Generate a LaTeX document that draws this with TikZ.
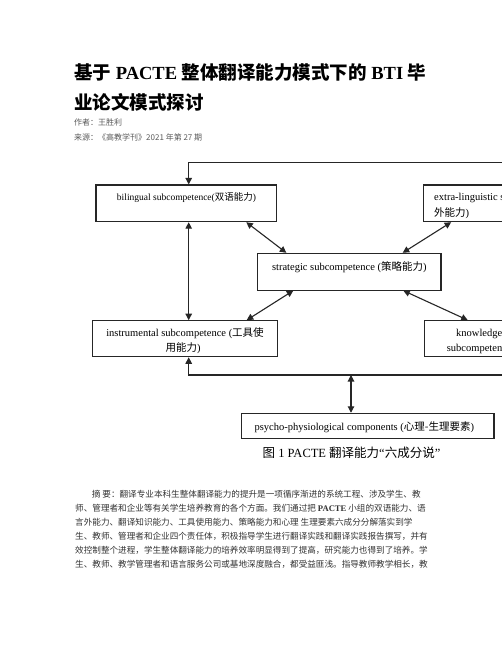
\documentclass[tikz,border=0pt]{standalone}
\usepackage{fontspec}
\setmainfont{Liberation Serif}
\newfontfamily\cjk{Noto Sans CJK SC}
\usetikzlibrary{arrows.meta,calc}

\newcommand{\zh}[1]{{\cjk #1}}

\tikzset{
  box/.style={draw=black!85, line width=1.1pt, inner sep=0pt},
  boxtext/.style={inner sep=0pt, font=\fontsize{10.5}{12}\selectfont},
  link/.style={draw=black!85, line width=1.1pt, -{Triangle[length=6.5pt,width=6.5pt]}},
  dlink/.style={link, {Triangle[length=6.5pt,width=6.5pt]}-{Triangle[length=6.5pt,width=6.5pt]}},
  bodyline/.style={anchor=base west, inner sep=0pt, text=black!80, font=\cjk\fontsize{8.6}{10}\selectfont},
}

\begin{document}
\begin{tikzpicture}[x=1pt, y=-1pt]
\useasboundingbox (0,0) rectangle (502,649);
\fill[white] (0,0) rectangle (502,649);
\clip (0,0) rectangle (502,649);

% title
\node[anchor=base west, inner sep=0pt, font=\fontsize{18.5}{20}\selectfont\bfseries] (title1) at (74,79) {\zh{基于} PACTE \zh{整体翻译能力模式下的} BTI \zh{毕}};
\node[anchor=base west, inner sep=0pt, font=\cjk\fontsize{18.5}{20}\selectfont\bfseries] (title2) at (74,109) {业论文模式探讨};
\node[anchor=base west, inner sep=0pt, text=black!65, font=\cjk\fontsize{8}{9}\selectfont] (author) at (74,125.7) {作者：王胜利};
\node[anchor=base west, inner sep=0pt, text=black!65, font=\cjk\fontsize{8}{9}\selectfont] (source) at (74,140.7) {来源：《高教学刊》2021 年第 27 期};

% boxes
\node[box, minimum width=180.7, minimum height=36.7] (bil) at (186.3,203.3) {};
\node[box, minimum width=190, minimum height=36.7] (ext) at (518.3,203.3) {};
\node[box, minimum width=183.3, minimum height=36.7] (str) at (349.3,271.7) {};
\node[box, minimum width=184.6, minimum height=36] (ins) at (185,338.7) {};
\node[box, minimum width=120, minimum height=36] (kno) at (484.3,338.7) {};
\node[box, minimum width=252.3, minimum height=25] (psy) at (367.8,425.8) {};

% box texts
\node[boxtext, anchor=base, font=\fontsize{9.5}{11}\selectfont] (bilt) at (186.5,200.7) {bilingual subcompetence(\zh{双语能力})};
\node[boxtext, anchor=base west] (extt1) at (434,200.8) {extra-linguistic subcompetence (\zh{语言}};
\node[boxtext, anchor=base west] (extt2) at (434,216.6) {\zh{外能力})};
\node[boxtext, anchor=base] (strt) at (349.3,270.5) {strategic subcompetence (\zh{策略能力})};
\node[boxtext, anchor=base] (inst1) at (185,336.5) {instrumental subcompetence (\zh{工具使}};
\node[boxtext, anchor=base] (inst2) at (183,351.2) {\zh{用能力})};
\node[boxtext, anchor=base west] (knot1) at (456,336.8) {knowledge};
\node[boxtext, anchor=base west] (knot2) at (446.7,351.2) {subcompetence};
\node[boxtext, anchor=base] (psyt) at (364.3,430.5) {psycho-physiological components (\zh{心理-生理要素})};

% connectors
\coordinate (topl) at (188.7,162.3);
\coordinate (topr) at (520,162.3);
\coordinate (botl) at (188.7,375);
\coordinate (botr) at (520,375);
\coordinate (psyj) at (351,375);

\draw[link] (topr) -- (topl) -- (topl |- bil.north);
\draw[dlink] (topl |- bil.south) -- (topl |- ins.north);
\draw[link] (botr) -- (botl) -- (botl |- ins.south);
\draw[dlink] (psyj) -- (psyj |- psy.north);

\draw[dlink] ($(bil.south)+(60,0)$) -- ($(str.north)+(-63,0)$);
\draw[dlink] ($(ext.south west)+(28.4,0)$) -- ($(str.north)+(53.4,0)$);
\draw[dlink] ($(str.south)+(-56,0)$) -- ($(ins.north)+(61.7,0)$);
\draw[dlink] ($(str.south)+(54,0)$) -- ($(kno.north west)+(44,0)$);

% caption
\node[anchor=base, inner sep=0pt, font=\fontsize{12.5}{14}\selectfont] (caption) at (351.5,457.4) {\zh{图} 1 PACTE \zh{翻译能力}“\zh{六成分说}”};

% abstract
\node[bodyline] (body1) at (91.7,497.3) {摘 要：翻译专业本科生整体翻译能力的提升是一项循序渐进的系统工程、涉及学生、教};
\node[bodyline] (body2) at (75,511.3) {师、管理者和企业等有关学生培养教育的各个方面。我们通过把 {\rmfamily\bfseries PACTE} 小组的双语能力、语};
\node[bodyline] (body3) at (75,525.3) {言外能力、翻译知识能力、工具使用能力、策略能力和心理 生理要素六成分分解落实到学};
\node[bodyline] (body4) at (75,539.3) {生、教师、管理者和企业四个责任体，积极指导学生进行翻译实践和翻译实践报告撰写，并有};
\node[bodyline] (body5) at (75,553.3) {效控制整个进程，学生整体翻译能力的培养效率明显得到了提高，研究能力也得到了培养。学};
\node[bodyline] (body6) at (75,567.3) {生、教师、教学管理者和语言服务公司或基地深度融合，都受益匪浅。指导教师教学相长，教};

\end{tikzpicture}
\end{document}
